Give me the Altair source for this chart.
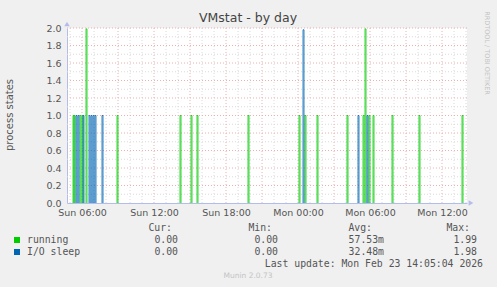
import altair as alt
import pandas as pd

# ---- data (5-minute samples, spikes only; all else 0) ----
running_times = ["2026-02-22 05:15", "2026-02-22 05:20", "2026-02-22 05:50", "2026-02-22 06:00",
                 "2026-02-22 06:20", "2026-02-22 08:55", "2026-02-22 14:10", "2026-02-22 15:05",
                 "2026-02-22 15:35", "2026-02-22 19:50", "2026-02-23 00:05", "2026-02-23 00:35",
                 "2026-02-23 01:35", "2026-02-23 04:05", "2026-02-23 05:25", "2026-02-23 05:35",
                 "2026-02-23 05:55", "2026-02-23 06:15", "2026-02-23 07:50", "2026-02-23 10:05",
                 "2026-02-23 13:40"]
running_values = [1, 1, 1, 1, 1.99, 1, 1, 1, 1, 1, 1, 1, 1, 1, 1, 1.99, 1, 1, 1, 1, 1]

io_times = ["2026-02-22 05:30", "2026-02-22 05:40", "2026-02-22 06:05", "2026-02-22 06:35",
            "2026-02-22 06:45", "2026-02-22 06:55", "2026-02-22 07:05", "2026-02-22 07:40",
            "2026-02-23 00:25", "2026-02-23 05:00", "2026-02-23 05:45"]
io_values = [1, 1, 1, 1, 1, 1, 1, 1, 1.98, 1, 1]

series_names = ["running", "I/O sleep"]
series_colors = ["#00CC00", "#0066B3"]
stat_cur = ["0.00", "0.00"]
stat_min = ["0.00", "0.00"]
stat_avg = ["57.53m", "32.48m"]
stat_max = ["1.99", "1.98"]

x_label_times = ["2026-02-22T06:00:00", "2026-02-22T12:00:00", "2026-02-22T18:00:00",
                 "2026-02-23T00:00:00", "2026-02-23T06:00:00", "2026-02-23T12:00:00"]
y_label_values = [0.0, 0.2, 0.4, 0.6, 0.8, 1.0, 1.2, 1.4, 1.6, 1.8, 2.0]

start = "2026-02-22T04:45:00"
end = "2026-02-23T14:05:00"


def spikes(name, times, values):
    rows = []
    for i, (t, v) in enumerate(zip(times, values)):
        t0 = pd.Timestamp(t)
        t1 = t0 + pd.Timedelta(minutes=5)
        for tt, vv in [(t0, 0), (t0, v), (t1, v), (t1, 0)]:
            rows.append({"t": tt.strftime("%Y-%m-%dT%H:%M:%S"), "v": vv,
                         "id": f"{name}{i}", "series": name})
    return pd.DataFrame(rows)


df_run = spikes("running", running_times, running_values)
df_io = spikes("I/O sleep", io_times, io_values)

# grid positions (hourly / every 0.1), major every 3 h / 0.2
hours = pd.date_range("2026-02-22 05:00", "2026-02-23 14:00", freq="h")
xgrid = pd.DataFrame({"t": [h.strftime("%Y-%m-%dT%H:%M:%S") for h in hours],
                      "major": [h.hour % 3 == 0 for h in hours]})
yvals = [round(i * 0.1, 1) for i in range(1, 21)]
ygrid = pd.DataFrame({"v": yvals, "major": [round(v * 10) % 2 == 0 for v in yvals]})

L, T = 67, 28
W, H = 400, 175
FONT = "DejaVu Sans"
MONO = "DejaVu Sans Mono"
TXT = "#555555"
MAJ = "#EBB0B0"
MIN = "#DADADA"

xscale = alt.Scale(domain=[start, end])
yscale = alt.Scale(domain=[0, 2], nice=False)

xaxis = alt.Axis(
    title=None, grid=False, ticks=False, domainColor="#B4BCEC",
    values=x_label_times, format="%a %H:%M",
    labelFont=FONT, labelFontSize=9.5, labelColor=TXT,
    labelPadding=4, labelOverlap=False, labelFlush=False,
)
yaxis = alt.Axis(
    title=None, grid=False, ticks=False, domainColor="#B4BCEC",
    values=y_label_values, format=".1f",
    labelFont=FONT, labelFontSize=9.5, labelColor=TXT,
    labelPadding=6, labelOverlap=False,
)

xgrid_minor = alt.Chart(xgrid).transform_filter("!datum.major").mark_rule(
    color=MIN, strokeDash=[1, 2], strokeWidth=1).encode(
    x=alt.X("t:T", scale=xscale, axis=xaxis))
xgrid_major = alt.Chart(xgrid).transform_filter("datum.major").mark_rule(
    color=MAJ, strokeDash=[1, 2], strokeWidth=1).encode(
    x=alt.X("t:T", scale=xscale, axis=xaxis))
ygrid_minor = alt.Chart(ygrid).transform_filter("!datum.major").mark_rule(
    color=MIN, strokeDash=[1, 2], strokeWidth=1).encode(
    y=alt.Y("v:Q", scale=yscale, axis=yaxis))
ygrid_major = alt.Chart(ygrid).transform_filter("datum.major").mark_rule(
    color=MAJ, strokeDash=[1, 2], strokeWidth=1).encode(
    y=alt.Y("v:Q", scale=yscale, axis=yaxis))

xenc = alt.X("t:T", scale=xscale, axis=xaxis)
yenc = alt.Y("v:Q", scale=yscale, axis=yaxis)

run_layer = alt.Chart(df_run).mark_line(strokeWidth=0.8, color=series_colors[0]).encode(
    x=xenc, y=yenc, detail="id:N")
io_layer = alt.Chart(df_io).mark_line(strokeWidth=0.8, color=series_colors[1]).encode(
    x=xenc, y=yenc, detail="id:N")

one = pd.DataFrame({"a": [0]})


def txt(text, x, y, size=10, font=FONT, color=TXT, align="left", angle=0):
    kw = dict(text=text, font=font, fontSize=size, color=color, align=align,
              baseline="middle")
    if angle:
        kw["angle"] = angle
    return alt.Chart(one).mark_text(**kw).encode(x=alt.value(x - L), y=alt.value(y - T))


def mark_pt(shape, x, y, color, size):
    return alt.Chart(one).mark_point(shape=shape, filled=True, opacity=1, color=color,
                                     size=size).encode(
        x=alt.value(x - L), y=alt.value(y - T))


layers = [ygrid_minor, xgrid_minor, ygrid_major, xgrid_major, run_layer, io_layer]
layers.append(txt("VMstat - by day", 248, 18, size=12.5, color="#444444", align="center"))
layers.append(txt("process states", 10, 115, size=10, align="center", angle=270))
layers.append(txt("RRDTOOL / TOBI OETIKER", 487, 53, size=6.5, color="#C4C4C4",
                  align="center", angle=90))
layers.append(mark_pt("triangle-up", 67, 24, "#B4BCEC", 30))
layers.append(mark_pt("triangle-right", 471, 203, "#B4BCEC", 30))

# legend table
for lab, xr in [("Cur:", 172), ("Min:", 272), ("Avg:", 372), ("Max:", 470)]:
    layers.append(txt(lab, xr, 228, font=MONO, size=9.8, align="right"))
rows_y = [240, 252]
for i in range(2):
    y = rows_y[i]
    layers.append(mark_pt("square", 17, y, series_colors[i], 36))
    layers.append(txt(series_names[i], 27, y, font=MONO, size=9.8))
    layers.append(txt(stat_cur[i], 178, y, font=MONO, size=9.8, align="right"))
    layers.append(txt(stat_min[i], 278, y, font=MONO, size=9.8, align="right"))
    layers.append(txt(stat_avg[i], 384, y, font=MONO, size=9.8, align="right"))
    layers.append(txt(stat_max[i], 477, y, font=MONO, size=9.8, align="right"))
layers.append(txt("Last update: Mon Feb 23 14:05:04 2026", 483, 264, font=MONO, size=9.8,
                  align="right"))
layers.append(txt("Munin 2.0.73", 248, 276, size=7.5, color="#C4C4C4", align="center"))

chart = alt.layer(*layers).properties(
    width=W, height=H,
    background="#F0F0F0",
    autosize=alt.AutoSizeParams(type="none"),
    padding={"left": L, "top": T, "right": 497 - L - W, "bottom": 287 - T - H},
).configure_view(fill="white", stroke=None)

chart.save("out.html", embed_options={"renderer": "svg", "actions": False})
